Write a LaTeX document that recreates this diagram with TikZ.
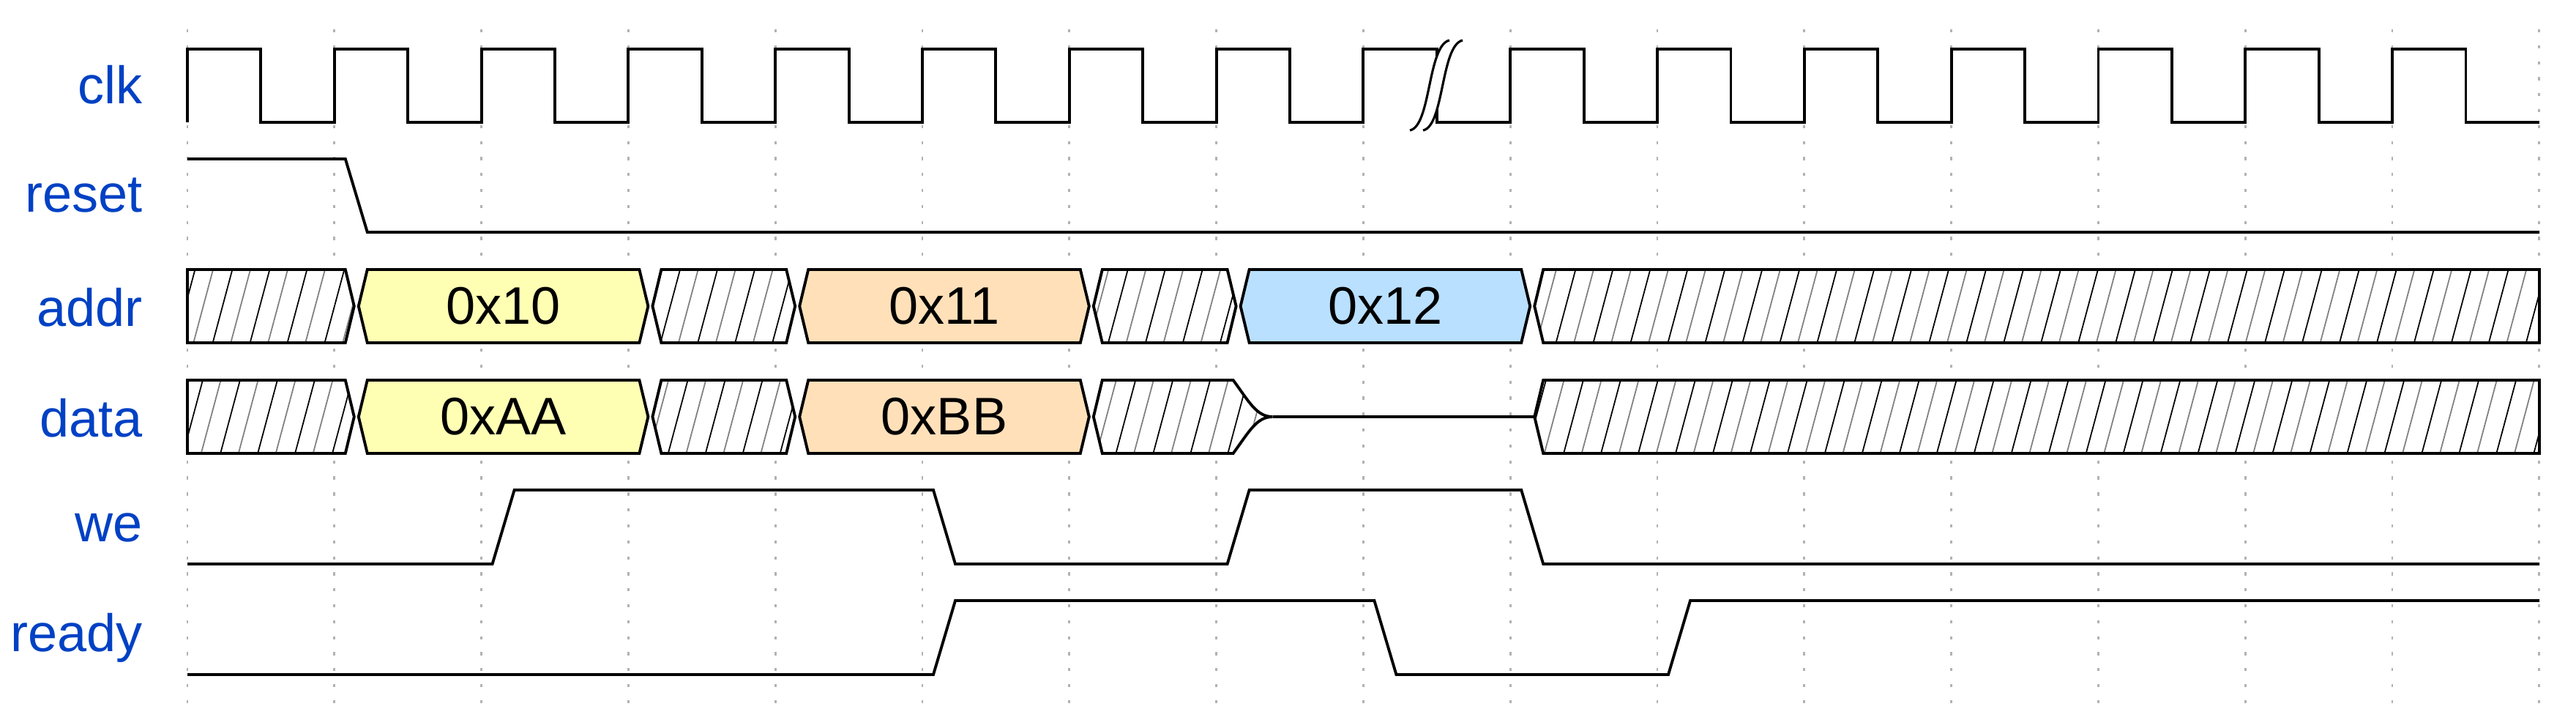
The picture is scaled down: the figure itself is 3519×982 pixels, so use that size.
\documentclass[tikz,border=0pt]{standalone}
\usepackage{fontspec}
\setmainfont{Liberation Sans}
\usetikzlibrary{patterns.meta}
\definecolor{lblblue}{HTML}{0041C4}
\definecolor{busA}{HTML}{FFFFB4}
\definecolor{busB}{HTML}{FFE0B9}
\definecolor{busC}{HTML}{B9E0FF}
\tikzset{
  wave/.style={line width=1.1pt, line join=miter},
  hatch/.style={wave, preaction={fill=white},
    preaction={pattern={Lines[angle=75,distance=14pt,line width=.5pt]}, pattern color=black},
    pattern={Lines[angle=75,distance=14pt,xshift=7pt,line width=.5pt]}, pattern color=gray},
  sig/.style={anchor=east, text=lblblue, font=\fontsize{20.5}{24}\selectfont},
  val/.style={font=\fontsize{20.5}{24}\selectfont},
  grid/.style={gray!60, line width=.8pt, dash pattern=on 1.2pt off 5pt}
}
\newcommand\X{256}
\newcommand\T{200.8}
\newcommand\E{3469}
%% bus segment between transition #1 and #2 (period indices), row top #3
\newcommand\busseg[4]{%
  \draw[#4] (\X+\T*#1+33,#3+50) -- (\X+\T*#1+45,#3) -- (\X+\T*#2+15,#3)
  -- (\X+\T*#2+27,#3+50) -- (\X+\T*#2+15,#3+100) -- (\X+\T*#1+45,#3+100) -- cycle;}
\begin{document}
\begin{tikzpicture}[x=0.01cm, y=-0.01cm]
\useasboundingbox (0,0) rectangle (3519,982);

  %% grid
  \foreach \i in {0,...,16}
    \draw[grid] (\X+\T*\i,40) -- (\X+\T*\i,960);

  %% labels
  \node[sig] (lclk)   at (207,116) {clk};
  \node[sig] (lreset) at (207,267) {reset};
  \node[sig] (laddr)  at (207,420) {addr};
  \node[sig] (ldata)  at (207,571) {data};
  \node[sig] (lwe)    at (207,720) {we};
  \node[sig] (lready) at (207,871) {ready};

  %% clk
  \draw[wave] (\X,167) \foreach \i in {0,...,15}
    { -- (\X+\T*\i,167) -- (\X+\T*\i,67) -- (\X+\T*\i+\T/2,67) -- (\X+\T*\i+\T/2,167) }
    -- (\E,167);
  %% gap
  \fill[white] (1926,178) .. controls (1955,172) and (1950,62) .. (1980,55)
    -- (1998,55) .. controls (1968,62) and (1973,172) .. (1944,178) -- cycle;
  \draw[line width=.9pt] (1926,178) .. controls (1955,172) and (1950,62) .. (1980,55);
  \draw[line width=.9pt] (1944,178) .. controls (1973,172) and (1968,62) .. (1998,55);

  %% reset
  \draw[wave] (\X,217) -- (\X+\T+15,217) -- (\X+\T+45,317) -- (\E,317);

  %% addr
  \draw[hatch] (\X,368) -- (\X+\T+15,368) -- (\X+\T+27,418) -- (\X+\T+15,468) -- (\X,468) -- cycle;
  \busseg{1}{3}{368}{wave,fill=busA}
  \node[val] (a10) at (\X+\T*2+30,418) {0x10};
  \busseg{3}{4}{368}{hatch}
  \busseg{4}{6}{368}{wave,fill=busB}
  \node[val] (a11) at (\X+\T*5+30,418) {0x11};
  \busseg{6}{7}{368}{hatch}
  \busseg{7}{9}{368}{wave,fill=busC}
  \node[val] (a12) at (\X+\T*8+30,418) {0x12};
  \draw[hatch] (\X+\T*9+33,418) -- (\X+\T*9+45,368) -- (\E,368) -- (\E,468) -- (\X+\T*9+45,468) -- cycle;

  %% data
  \draw[hatch] (\X,519) -- (\X+\T+15,519) -- (\X+\T+27,569) -- (\X+\T+15,619) -- (\X,619) -- cycle;
  \busseg{1}{3}{519}{wave,fill=busA}
  \node[val] (dAA) at (\X+\T*2+30,569) {0xAA};
  \busseg{3}{4}{519}{hatch}
  \busseg{4}{6}{519}{wave,fill=busB}
  \node[val] (dBB) at (\X+\T*5+30,569) {0xBB};
  \draw[hatch] (\X+\T*6+33,569) -- (\X+\T*6+45,519) -- (\X+\T*7+23,519)
    .. controls (\X+\T*7+45,549) and (\X+\T*7+55,569) .. (\X+\T*7+77,569)
    .. controls (\X+\T*7+55,569) and (\X+\T*7+45,589) .. (\X+\T*7+23,619)
    -- (\X+\T*6+45,619) -- cycle;
  \draw[wave] (\X+\T*7+77,569) -- (\X+\T*9+33,569);
  \draw[hatch] (\X+\T*9+33,569) -- (\X+\T*9+45,519) -- (\E,519) -- (\E,619) -- (\X+\T*9+45,619) -- cycle;

  %% we
  \draw[wave] (\X,770) -- (\X+\T*2+15,770) -- (\X+\T*2+45,669) -- (\X+\T*5+15,669)
    -- (\X+\T*5+45,770) -- (\X+\T*7+15,770) -- (\X+\T*7+45,669) -- (\X+\T*9+15,669)
    -- (\X+\T*9+45,770) -- (\E,770);

  %% ready
  \draw[wave] (\X,921) -- (\X+\T*5+15,921) -- (\X+\T*5+45,820) -- (\X+\T*8+15,820)
    -- (\X+\T*8+45,921) -- (\X+\T*10+15,921) -- (\X+\T*10+45,820) -- (\E,820);

\end{tikzpicture}
\end{document}
